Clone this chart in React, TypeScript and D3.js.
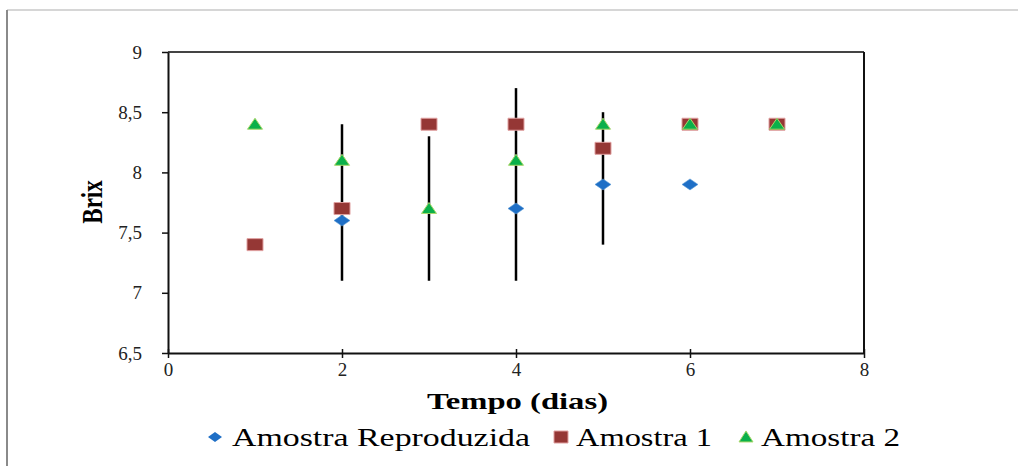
import React, { useEffect, useRef } from 'react';
import * as d3 from 'd3';

// days on x, Brix on y
const days = [1, 2, 3, 4, 5, 6, 7];
const reproduzida: [number, number][] = [[2, 7.6], [4, 7.7], [5, 7.9], [6, 7.9]];
const amostra1 = [7.4, 7.7, 8.4, 8.4, 8.2, 8.4, 8.4];
const amostra2 = [8.4, 8.1, 7.7, 8.1, 8.4, 8.4, 8.4];
// error bars: [day, low, high]
const errorBars: [number, number, number][] = [[2, 7.1, 8.4], [3, 7.1, 8.3], [4, 7.1, 8.7], [5, 7.4, 8.5]];
const xTicks = [0, 2, 4, 6, 8];
const yTicks = [6.5, 7, 7.5, 8, 8.5, 9];

const BLUE = '#1f6fc6';
const RED = '#953735';
const RED_EDGE = '#e0a0a0';
const GREEN = '#0bb04a';
const GREEN_EDGE = '#a8d86a';

const diamond = (w: number, h: number) => `M0,${-h / 2}L${w / 2},0L0,${h / 2}L${-w / 2},0Z`;
const rect = (w: number, h: number) => `M${-w / 2},${-h / 2}h${w}v${h}h${-w}Z`;
const tri = (w: number, h: number) => `M0,${-h * 0.55}L${w / 2},${h * 0.45}L${-w / 2},${h * 0.45}Z`;

const App: React.FC = () => {
  const svgRef = useRef<SVGSVGElement>(null);

  useEffect(() => {
    if (!svgRef.current) return;
    const svg = d3.select(svgRef.current);
    svg.selectAll('*').remove();

    const x = d3.scaleLinear().domain([0, 8]).range([168, 864]);
    const y = d3.scaleLinear().domain([6.5, 9]).range([353, 52]);
    const comma = (d: d3.NumberValue) => String(d).replace('.', ',');

    // outer frame
    svg.append('line').attr('x1', 7).attr('x2', 1018).attr('y1', 10).attr('y2', 10)
      .attr('stroke', '#c8c8c8').attr('stroke-width', 1.5);
    svg.append('line').attr('x1', 7).attr('x2', 7).attr('y1', 10).attr('y2', 466)
      .attr('stroke', '#8a8a8a').attr('stroke-width', 2);

    // plot box top + right
    svg.append('line').attr('x1', x(0)).attr('x2', x(8)).attr('y1', y(9)).attr('y2', y(9))
      .attr('stroke', '#444').attr('stroke-width', 2);
    svg.append('line').attr('x1', x(8)).attr('x2', x(8)).attr('y1', y(9)).attr('y2', y(6.5))
      .attr('stroke', '#111').attr('stroke-width', 2);

    const yAxis = svg.append('g')
      .attr('transform', `translate(${x(0)},0)`)
      .call(d3.axisLeft(y).tickValues(yTicks).tickFormat(comma).tickSize(6).tickSizeOuter(0));
    yAxis.select('.domain').attr('stroke', '#111').attr('stroke-width', 2);
    yAxis.selectAll('.tick line').attr('stroke', '#111').attr('stroke-width', 1.5);
    yAxis.selectAll('.tick text').attr('font-family', '"Liberation Serif", serif')
      .attr('font-size', 19).attr('fill', '#222').attr('x', -26);

    const xAxis = svg.append('g')
      .attr('transform', `translate(0,${y(6.5)})`)
      .call(d3.axisBottom(x).tickValues(xTicks).tickSize(5).tickSizeOuter(0));
    xAxis.select('.domain').attr('stroke', '#111').attr('stroke-width', 2);
    xAxis.selectAll('.tick line').attr('stroke', '#111').attr('stroke-width', 1.5).attr('y1', -4);
    xAxis.selectAll('.tick text').attr('font-family', '"Liberation Serif", serif')
      .attr('font-size', 19).attr('fill', '#222').attr('y', 10);

    // error bars
    svg.append('g').selectAll('line').data(errorBars).enter().append('line')
      .attr('x1', d => x(d[0])).attr('x2', d => x(d[0]))
      .attr('y1', d => y(d[1])).attr('y2', d => y(d[2]))
      .attr('stroke', '#000').attr('stroke-width', 2.5);

    // series
    svg.append('g').selectAll('path').data(reproduzida).enter().append('path')
      .attr('d', diamond(16, 11)).attr('transform', d => `translate(${x(d[0])},${y(d[1])})`)
      .attr('fill', BLUE).attr('stroke', '#5b9bd5').attr('stroke-width', 0.6);
    svg.append('g').selectAll('path').data(amostra1).enter().append('path')
      .attr('d', rect(16, 12)).attr('transform', (d, i) => `translate(${x(days[i])},${y(d)})`)
      .attr('fill', RED).attr('stroke', RED_EDGE).attr('stroke-width', 1);
    svg.append('g').selectAll('path').data(amostra2).enter().append('path')
      .attr('d', tri(15, 11)).attr('transform', (d, i) => `translate(${x(days[i])},${y(d)})`)
      .attr('fill', GREEN).attr('stroke', GREEN_EDGE).attr('stroke-width', 1);

    // titles
    svg.append('text').attr('x', 427).attr('y', 409).text('Tempo (dias)')
      .attr('font-family', '"Liberation Serif", serif').attr('font-weight', 'bold')
      .attr('font-size', 24).attr('textLength', 181).attr('lengthAdjust', 'spacingAndGlyphs');
    svg.append('text').attr('transform', 'translate(102,202) scale(1.3,1) rotate(-90)')
      .attr('text-anchor', 'middle').text('Brix')
      .attr('font-family', '"Liberation Serif", serif').attr('font-weight', 'bold')
      .attr('font-size', 23);

    // legend
    const legend = [
      { label: 'Amostra Reproduzida', mx: 215, tx: 232, w: 298, d: diamond(14, 10), fill: BLUE, edge: 'none' },
      { label: 'Amostra 1', mx: 561, tx: 576, w: 136, d: rect(14, 12), fill: RED, edge: RED_EDGE },
      { label: 'Amostra 2', mx: 746, tx: 761, w: 139, d: tri(14, 11), fill: GREEN, edge: GREEN_EDGE },
    ];
    const lg = svg.append('g');
    legend.forEach(l => {
      lg.append('path').attr('d', l.d).attr('transform', `translate(${l.mx},437)`)
        .attr('fill', l.fill).attr('stroke', l.edge);
      lg.append('text').attr('x', l.tx).attr('y', 446).text(l.label)
        .attr('font-family', '"Liberation Serif", serif').attr('font-size', 25)
        .attr('textLength', l.w).attr('lengthAdjust', 'spacingAndGlyphs').attr('fill', '#000');
    });
  }, []);

  return (
    <svg ref={svgRef} width={1018} height={466}
      style={{ position: 'absolute', left: 0, top: 0, background: '#fff' }} />
  );
};

export default App;
